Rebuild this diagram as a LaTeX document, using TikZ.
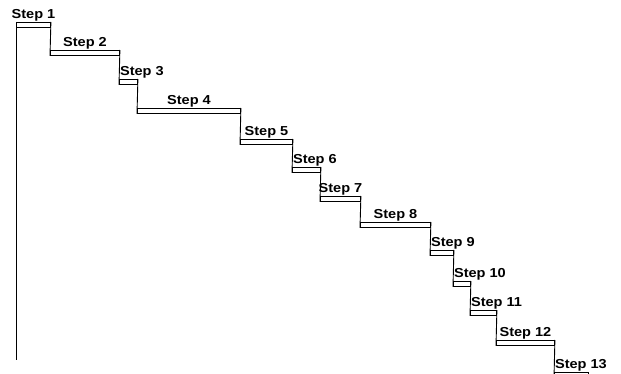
\documentclass[tikz,border=0pt]{standalone}
\usepackage{fontspec}
\setmainfont{Liberation Sans}[FakeStretch=1.12]
\begin{document}
\begin{tikzpicture}[x=1pt, y=-1pt, line width=0.9pt,
    tread/.style={draw, rectangle, anchor=north west, inner sep=0pt, minimum height=5pt},
    lbl/.style={font=\fontsize{13}{15}\selectfont\bfseries, inner sep=0.6pt}]
    \useasboundingbox (0,0) rectangle (621,374);

    % treads
    \node[tread, minimum width=34pt] (s1) at (16, 22) {};
    \node[tread, minimum width=69pt] (s2) at (50, 50) {};
    \node[tread, minimum width=18pt] (s3) at (119, 79) {};
    \node[tread, minimum width=103pt] (s4) at (137, 108) {};
    \node[tread, minimum width=52pt] (s5) at (240, 139) {};
    \node[tread, minimum width=28pt] (s6) at (292, 167) {};
    \node[tread, minimum width=40pt] (s7) at (320, 196) {};
    \node[tread, minimum width=70pt] (s8) at (360, 222) {};
    \node[tread, minimum width=23pt] (s9) at (430, 250) {};
    \node[tread, minimum width=17pt] (s10) at (453, 281) {};
    \node[tread, minimum width=26pt] (s11) at (470, 310) {};
    \node[tread, minimum width=58pt] (s12) at (496, 340) {};
    \node[tread, minimum width=34pt] (s13) at (554, 372) {};
    \coordinate (base) at (16, 360);

    % risers
    \draw (s1.north west) -- (base);
    \draw (s1.north east) -- (s2.south west);
    \draw (s2.north east) -- (s3.south west);
    \draw (s3.north east) -- (s4.south west);
    \draw (s4.north east) -- (s5.south west);
    \draw (s5.north east) -- (s6.south west);
    \draw (s6.north east) -- (s7.south west);
    \draw (s7.north east) -- (s8.south west);
    \draw (s8.north east) -- (s9.south west);
    \draw (s9.north east) -- (s10.south west);
    \draw (s10.north east) -- (s11.south west);
    \draw (s11.north east) -- (s12.south west);
    \draw (s12.north east) -- (s13.south west);

    % labels
    \node[lbl, above] (l1) at (s1.north) {Step 1};
    \node[lbl, above] (l2) at (s2.north) {Step 2};
    \node[lbl, above right] (l3) at (s3.north west) {Step 3};
    \node[lbl, above] (l4) at (s4.north) {Step 4};
    \node[lbl, above] (l5) at (s5.north) {Step 5};
    \node[lbl, above right] (l6) at (s6.north west) {Step 6};
    \node[lbl, above] (l7) at (s7.north) {Step 7};
    \node[lbl, above] (l8) at (s8.north) {Step 8};
    \node[lbl, above right] (l9) at (s9.north west) {Step 9};
    \node[lbl, above right] (l10) at (s10.north west) {Step 10};
    \node[lbl, above right] (l11) at (s11.north west) {Step 11};
    \node[lbl, above] (l12) at (s12.north) {Step 12};
    \node[lbl, above right] (l13) at (s13.north west) {Step 13};

\end{tikzpicture}
\end{document}
